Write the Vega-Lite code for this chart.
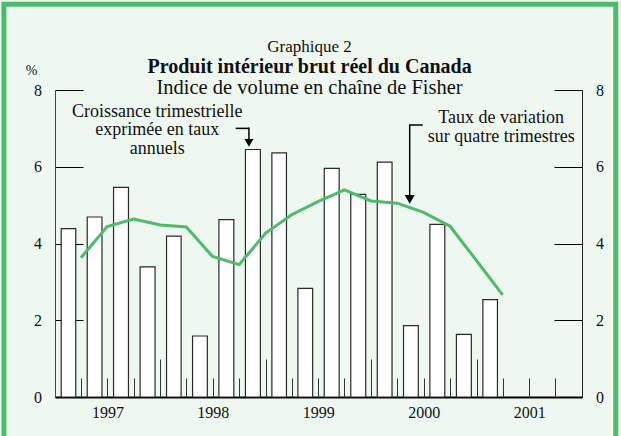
{
  "$schema": "https://vega.github.io/schema/vega-lite/v6.json",
  "width": 527,
  "height": 307,
  "autosize": "none",
  "padding": {"left": 55, "top": 90, "right": 39, "bottom": 39},
  "background": "#eef8f0",
  "config": {
    "view": {"stroke": null},
    "font": "Liberation Serif",
    "axis": {"labelFont": "Liberation Serif", "labelFontSize": 16, "labelColor": "#111", "grid": false, "titleFont": "Liberation Serif"}
  },
  "datasets": {
    "pib": [
      {"trimestre": "1997-01-01T00:00:00", "trimestriel": 4.39, "annuel": 3.63},
      {"trimestre": "1997-04-01T00:00:00", "trimestriel": 4.69, "annuel": 4.44},
      {"trimestre": "1997-07-01T00:00:00", "trimestriel": 5.46, "annuel": 4.64},
      {"trimestre": "1997-10-01T00:00:00", "trimestriel": 3.39, "annuel": 4.48},
      {"trimestre": "1998-01-01T00:00:00", "trimestriel": 4.19, "annuel": 4.43},
      {"trimestre": "1998-04-01T00:00:00", "trimestriel": 1.59, "annuel": 3.66},
      {"trimestre": "1998-07-01T00:00:00", "trimestriel": 4.62, "annuel": 3.45},
      {"trimestre": "1998-10-01T00:00:00", "trimestriel": 6.45, "annuel": 4.27},
      {"trimestre": "1999-01-01T00:00:00", "trimestriel": 6.36, "annuel": 4.75},
      {"trimestre": "1999-04-01T00:00:00", "trimestriel": 2.83, "annuel": 5.09},
      {"trimestre": "1999-07-01T00:00:00", "trimestriel": 5.96, "annuel": 5.40},
      {"trimestre": "1999-10-01T00:00:00", "trimestriel": 5.28, "annuel": 5.11},
      {"trimestre": "2000-01-01T00:00:00", "trimestriel": 6.12, "annuel": 5.05},
      {"trimestre": "2000-04-01T00:00:00", "trimestriel": 1.86, "annuel": 4.81},
      {"trimestre": "2000-07-01T00:00:00", "trimestriel": 4.50, "annuel": 4.45},
      {"trimestre": "2000-10-01T00:00:00", "trimestriel": 1.63, "annuel": 3.55},
      {"trimestre": "2001-01-01T00:00:00", "trimestriel": 2.54, "annuel": 2.66}
    ]
  },
  "layer": [
    {
      "data": {"values": [{}]},
      "mark": {"type": "rect", "fill": "#eef8f0", "fillOpacity": 0, "stroke": "#4cbb6c", "strokeWidth": 5},
      "encoding": {
        "x": {"datum": {"year": 1996, "month": 7, "date": 8}, "type": "temporal", "axis": null},
        "x2": {"datum": {"year": 2002, "month": 4, "date": 28}},
        "y": {"datum": 10.235, "type": "quantitative", "axis": null},
        "y2": {"datum": -1.3}
      }
    },
    {
      "data": {"name": "pib"},
      "mark": {"type": "bar", "fill": "white", "stroke": "#2a2a2a", "strokeWidth": 1.2, "width": {"band": 0.6}},
      "encoding": {
        "x": {
          "field": "trimestre", "timeUnit": "yearquarter", "type": "temporal",
          "scale": {"domain": [{"year": 1997, "month": 1, "date": 1}, {"year": 2002, "month": 1, "date": 1}], "nice": false},
          "axis": {
            "orient": "bottom", "title": null,
            "values": [{"year": 1997, "month": 7, "date": 2}, {"year": 1998, "month": 7, "date": 2}, {"year": 1999, "month": 7, "date": 2}, {"year": 2000, "month": 7, "date": 2}, {"year": 2001, "month": 7, "date": 2}],
            "format": "%Y", "ticks": false, "domainColor": "#000", "domainWidth": 2, "labelPadding": 7, "labelFlush": false, "labelOverlap": false
          }
        },
        "y": {
          "field": "trimestriel", "type": "quantitative",
          "scale": {"domain": [0, 8], "nice": false},
          "axis": {
            "orient": "left", "values": [0, 2, 4, 6, 8], "tickSize": -28, "tickColor": "#000", "labelPadding": 41.5, "domainColor": "#444",
            "title": "%", "titleAngle": 0, "titleX": -24, "titleY": -20, "titleAlign": "center", "titleBaseline": "middle",
            "titleFontSize": 14, "titleFontWeight": "normal", "titleColor": "#111"
          }
        }
      }
    },
    {
      "data": {"name": "pib"},
      "mark": {"type": "line", "color": "#4dbb6a", "strokeWidth": 3},
      "encoding": {
        "x": {
          "field": "trimestre", "timeUnit": "yearquarter", "type": "temporal", "bandPosition": 1,
          "axis": {
            "orient": "bottom", "title": null, "labels": false, "domain": false, "tickSize": -19, "tickColor": "#333",
            "values": [
              {"year": 1997, "month": 4, "date": 1}, {"year": 1997, "month": 7, "date": 1}, {"year": 1997, "month": 10, "date": 1},
              {"year": 1998, "month": 4, "date": 1}, {"year": 1998, "month": 7, "date": 1}, {"year": 1998, "month": 10, "date": 1},
              {"year": 1999, "month": 4, "date": 1}, {"year": 1999, "month": 7, "date": 1}, {"year": 1999, "month": 10, "date": 1},
              {"year": 2000, "month": 4, "date": 1}, {"year": 2000, "month": 7, "date": 1}, {"year": 2000, "month": 10, "date": 1},
              {"year": 2001, "month": 4, "date": 1}, {"year": 2001, "month": 7, "date": 1}, {"year": 2001, "month": 10, "date": 1}
            ]
          }
        },
        "y": {
          "field": "annuel", "type": "quantitative",
          "axis": {"orient": "right", "values": [0, 2, 4, 6, 8], "tickSize": -28, "tickColor": "#000", "labelPadding": 41.5, "domainColor": "#222", "title": null}
        }
      }
    },
    {
      "data": {"values": [{}]},
      "mark": {"type": "text", "fontSize": 17, "font": "Liberation Serif", "color": "#111", "baseline": "middle"},
      "encoding": {
        "x": {
          "datum": {"year": 1999, "month": 6, "date": 2}, "type": "temporal",
          "axis": {
            "orient": "bottom", "title": null, "labels": false, "domain": false, "tickSize": -38, "tickColor": "#333",
            "values": [{"year": 1998, "month": 1, "date": 1}, {"year": 1999, "month": 1, "date": 1}, {"year": 2000, "month": 1, "date": 1}, {"year": 2001, "month": 1, "date": 1}]
          }
        },
        "y": {"datum": 9.12, "type": "quantitative", "axis": null},
        "text": {"value": "Graphique 2"}
      }
    },
    {
      "data": {"values": [{}]},
      "mark": {"type": "text", "fontSize": 20, "font": "Liberation Serif", "fontWeight": "bold", "color": "#111", "baseline": "middle"},
      "encoding": {
        "x": {"datum": {"year": 1999, "month": 6, "date": 2}, "type": "temporal", "axis": null},
        "y": {"datum": 8.597, "type": "quantitative", "axis": null},
        "text": {"value": "Produit intérieur brut réel du Canada"}
      }
    },
    {
      "data": {"values": [{}]},
      "mark": {"type": "text", "fontSize": 20.5, "font": "Liberation Serif", "color": "#111", "baseline": "middle"},
      "encoding": {
        "x": {"datum": {"year": 1999, "month": 6, "date": 2}, "type": "temporal", "axis": null},
        "y": {"datum": 8.05, "type": "quantitative", "axis": null},
        "text": {"value": "Indice de volume en chaîne de Fisher"}
      }
    },
    {
      "data": {"values": [{}]},
      "mark": {"type": "text", "fontSize": 18, "font": "Liberation Serif", "color": "#111", "baseline": "middle", "lineHeight": 18.5},
      "encoding": {
        "x": {"datum": {"year": 1997, "month": 12, "date": 21}, "type": "temporal", "axis": null},
        "y": {"datum": 7.43, "type": "quantitative", "axis": null},
        "text": {"value": ["Croissance trimestrielle", "exprimée en taux", "annuels"]}
      }
    },
    {
      "data": {"values": [{}]},
      "mark": {"type": "text", "fontSize": 18, "font": "Liberation Serif", "color": "#111", "baseline": "middle", "lineHeight": 18.7},
      "encoding": {
        "x": {"datum": {"year": 2001, "month": 3, "date": 27}, "type": "temporal", "axis": null},
        "y": {"datum": 7.267, "type": "quantitative", "axis": null},
        "text": {"value": ["Taux de variation", "sur quatre trimestres"]}
      }
    },
    {
      "data": {"values": [{}]},
      "mark": {"type": "rule", "color": "#000", "strokeWidth": 1.5},
      "encoding": {
        "x": {"datum": {"year": 1998, "month": 9, "date": 19}, "type": "temporal", "axis": null},
        "x2": {"datum": {"year": 1998, "month": 11, "date": 4}},
        "y": {"datum": 7.0, "type": "quantitative", "axis": null}
      }
    },
    {
      "data": {"values": [{}]},
      "mark": {"type": "rule", "color": "#000", "strokeWidth": 1.5},
      "encoding": {
        "x": {"datum": {"year": 1998, "month": 11, "date": 4}, "type": "temporal", "axis": null},
        "y": {"datum": 7.02, "type": "quantitative", "axis": null},
        "y2": {"datum": 6.68}
      }
    },
    {
      "data": {"values": [{}]},
      "mark": {"type": "point", "shape": "triangle-down", "filled": true, "color": "#000", "size": 81, "opacity": 1},
      "encoding": {
        "x": {"datum": {"year": 1998, "month": 11, "date": 4}, "type": "temporal", "axis": null},
        "y": {"datum": 6.62, "type": "quantitative", "axis": null}
      }
    },
    {
      "data": {"values": [{}]},
      "mark": {"type": "rule", "color": "#000", "strokeWidth": 1.5},
      "encoding": {
        "x": {"datum": {"year": 2000, "month": 6, "date": 28}, "type": "temporal", "axis": null},
        "x2": {"datum": {"year": 2000, "month": 5, "date": 14}},
        "y": {"datum": 7.088, "type": "quantitative", "axis": null}
      }
    },
    {
      "data": {"values": [{}]},
      "mark": {"type": "rule", "color": "#000", "strokeWidth": 1.5},
      "encoding": {
        "x": {"datum": {"year": 2000, "month": 5, "date": 14}, "type": "temporal", "axis": null},
        "y": {"datum": 7.105, "type": "quantitative", "axis": null},
        "y2": {"datum": 5.22}
      }
    },
    {
      "data": {"values": [{}]},
      "mark": {"type": "point", "shape": "triangle-down", "filled": true, "color": "#000", "size": 100, "opacity": 1},
      "encoding": {
        "x": {"datum": {"year": 2000, "month": 5, "date": 14}, "type": "temporal", "axis": null},
        "y": {"datum": 5.15, "type": "quantitative", "axis": null}
      }
    }
  ],
  "resolve": {"axis": {"x": "independent", "y": "independent"}}
}
